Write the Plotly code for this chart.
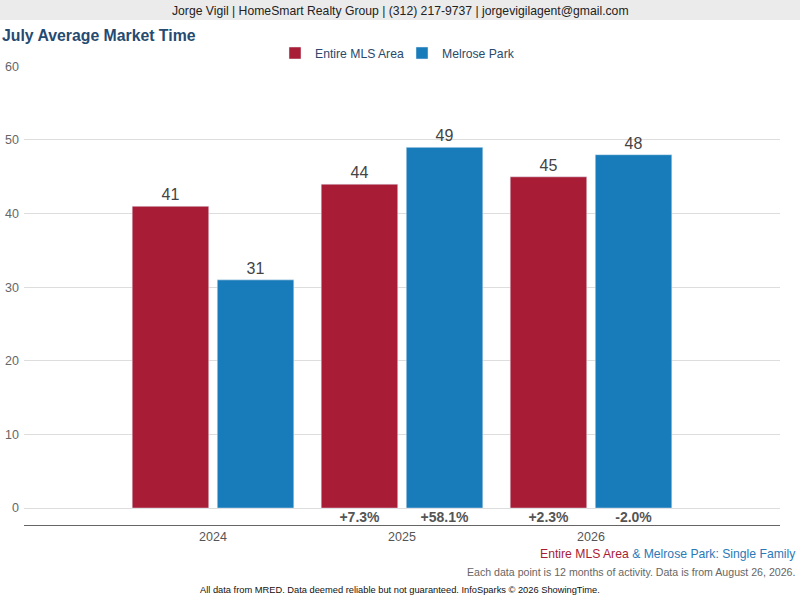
import plotly.graph_objects as go

# chart data
years = [2024, 2025, 2026]
mls_area = [41, 44, 45]
melrose_park = [31, 49, 48]
mls_change = ["", "+7.3%", "+2.3%"]
melrose_change = ["", "+58.1%", "-2.0%"]

RED = "#A91C36"
BLUE = "#187BBA"
FONT = "Liberation Sans, Arial, sans-serif"

W, H = 800, 600
ML, MR, MT, MB = 24, 20, 66, 75
PW, PH = W - ML - MR, H - MT - MB
BARGAP = 0.1
half = (1 - BARGAP) / 4  # centre offset of each bar inside its group


def px_x(x):
    return (x - ML) / PW


def px_y(y):
    return (H - MB - y) / PH


fig = go.Figure()
fig.add_trace(go.Bar(
    x=years, y=mls_area, name="Entire MLS Area", marker_color=RED,
    text=mls_area, textposition="outside", cliponaxis=False,
    textfont=dict(size=16, color="#444"), hoverinfo="skip",
))
fig.add_trace(go.Bar(
    x=years, y=melrose_park, name="Melrose Park", marker_color=BLUE,
    text=melrose_park, textposition="outside", cliponaxis=False,
    textfont=dict(size=16, color="#444"), hoverinfo="skip",
))

# year-over-year change labels under the bars
fig.add_trace(go.Scatter(
    x=[y - half for y in years] + [y + half for y in years],
    y=[-1.4] * (2 * len(years)),
    text=mls_change + melrose_change,
    mode="text", showlegend=False, hoverinfo="skip", cliponaxis=False,
    textfont=dict(size=14, color="#555", weight="bold"),
))

fig.update_layout(
    width=W, height=H,
    margin=dict(l=ML, r=MR, t=MT, b=MB, autoexpand=False),
    paper_bgcolor="white", plot_bgcolor="white",
    font=dict(family=FONT, color="#444"),
    barmode="group", bargap=BARGAP, bargroupgap=0.1,
    title=dict(
        text="<b>July Average Market Time</b>",
        x=0.0025, xref="container", xanchor="left",
        y=1 - 35 / H, yref="container", yanchor="middle",
        font=dict(size=15.8, color="#264A70", family=FONT),
    ),
    legend=dict(
        orientation="h", x=0.5, xanchor="center",
        y=1 + (MT - 53) / PH, yanchor="middle",
        font=dict(size=12.2, color="#2B4A6B"),
        entrywidth=82, entrywidthmode="pixels",
        itemclick=False, itemdoubleclick=False,
    ),
    showlegend=True,
    xaxis=dict(
        range=[2023, 2027], tickvals=years, ticktext=[str(y) for y in years],
        showgrid=False, zeroline=False, showline=True,
        linecolor="#666", linewidth=1, ticks="",
        tickfont=dict(size=12.5, color="#555"), automargin=False,
    ),
    yaxis=dict(
        range=[-2.3, 60.05], tickvals=[0, 10, 20, 30, 40, 50, 60],
        showgrid=True, gridcolor="#DDDDDD", zeroline=False,
        tickfont=dict(size=12.5, color="#666"), automargin=False,
        ticklabelstandoff=4,
    ),
    shapes=[dict(
        type="rect", xref="paper", yref="paper",
        x0=px_x(0), x1=px_x(W), y0=px_y(20), y1=px_y(0),
        fillcolor="#EBEBEB", line_width=0, layer="below",
    )],
    annotations=[
        dict(
            text="Jorge Vigil | HomeSmart Realty Group | (312) 217-9737 | jorgevigilagent@gmail.com",
            x=px_x(400), y=px_y(11), xref="paper", yref="paper",
            xanchor="center", yanchor="middle", showarrow=False,
            font=dict(size=12.2, color="#222"),
        ),
        dict(
            text=f"<span style='color:{RED}'>Entire MLS Area</span>"
                 f"<span style='color:#2A7AB8'> &amp; Melrose Park: Single Family</span>",
            x=px_x(798), y=px_y(554), xref="paper", yref="paper",
            xanchor="right", yanchor="middle", showarrow=False,
            font=dict(size=12.2),
        ),
        dict(
            text="Each data point is 12 months of activity. Data is from August 26, 2026.",
            x=px_x(797), y=px_y(572), xref="paper", yref="paper",
            xanchor="right", yanchor="middle", showarrow=False,
            font=dict(size=10.6, color="#666"),
        ),
        dict(
            text="All data from MRED. Data deemed reliable but not guaranteed. InfoSparks © 2026 ShowingTime.",
            x=px_x(400), y=px_y(590), xref="paper", yref="paper",
            xanchor="center", yanchor="middle", showarrow=False,
            font=dict(size=9.3, color="#111"),
        ),
    ],
)

fig.write_html(
    "out.html",
    config={"displayModeBar": False},
    post_script="document.body.style.margin='0';",
)
